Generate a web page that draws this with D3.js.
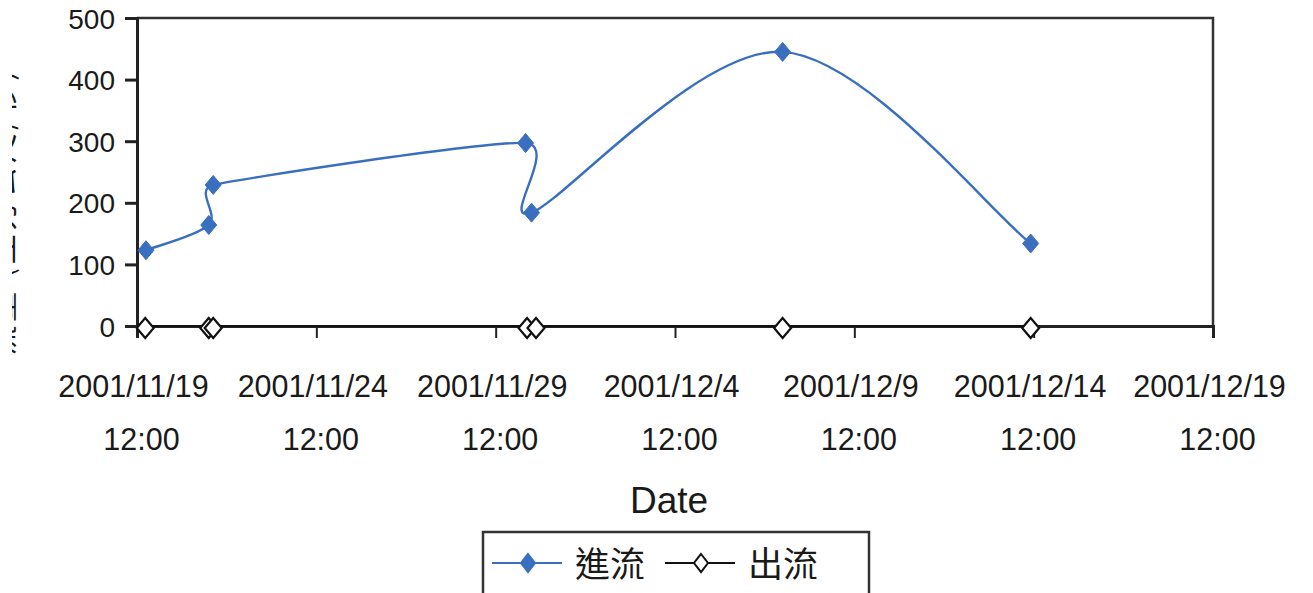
<!DOCTYPE html>
<html>
<head>
<meta charset="utf-8">
<script src="https://cdn.jsdelivr.net/npm/d3@7"></script>
<style>
  html, body { margin: 0; padding: 0; background: #fff; }
  svg { display: block; }
  text { font-family: "Liberation Sans", Arial, sans-serif; fill: #1a1a1a; }
  .cjk { font-family: "Noto Sans CJK TC", "Noto Sans CJK SC", sans-serif; }
</style>
</head>
<body>
<svg id="chart" width="1313" height="593"></svg>
<script>
// Series: inflow (進流) and outflow (出流)
const seriesNames = ["進流", "出流"];
const inflowTimes = ["2001/11/19 18:00", "2001/11/21 12:00", "2001/11/21 15:00",
                     "2001/11/30 08:00", "2001/11/30 12:00", "2001/12/07 12:00",
                     "2001/12/14 10:00"];
const inflowValues = [123, 164, 229, 297, 184, 445, 134];
const outflowTimes = ["2001/11/19 17:30", "2001/11/21 12:00", "2001/11/21 15:00",
                      "2001/11/30 09:00", "2001/11/30 15:00", "2001/12/07 12:00",
                      "2001/12/14 10:00"];
const outflowValues = [0, 0, 0, 0, 0, 0, 0];

// Axis ticks
const xTickLabels = ["2001/11/19 12:00", "2001/11/24 12:00", "2001/11/29 12:00",
                     "2001/12/4 12:00", "2001/12/9 12:00", "2001/12/14 12:00",
                     "2001/12/19 12:00"];
const yTicks = [0, 100, 200, 300, 400, 500];
const xTitle = "Date";
const yTitle = "流量 (立方公尺/秒)";

const parse = d3.timeParse("%Y/%m/%d %H:%M");
const xTickDates = xTickLabels.map(parse);

const svg = d3.select("#chart");
const plot = { left: 137, right: 1213, top: 18, bottom: 326 };

const x = d3.scaleTime()
  .domain([xTickDates[0], xTickDates[xTickDates.length - 1]])
  .range([plot.left, plot.right]);
const y = d3.scaleLinear().domain([0, 500]).range([plot.bottom, plot.top]);

const inflow = inflowTimes.map((t, i) => ({ t: parse(t), v: inflowValues[i] }));
const outflow = outflowTimes.map((t, i) => ({ t: parse(t), v: outflowValues[i] }));

// Spreadsheet-style smoothing: cubic Bezier segments whose handles follow the
// neighbouring chord (1/6 of it), clamped to half of the shorter adjacent segment.
function SmoothCurve(context) { this._context = context; }
SmoothCurve.prototype = {
  areaStart() {}, areaEnd() {},
  lineStart() { this._pts = []; },
  point(px, py) { this._pts.push([+px, +py]); },
  lineEnd() {
    const p = this._pts, n = p.length, c = this._context;
    if (!n) return;
    c.moveTo(p[0][0], p[0][1]);
    if (n === 1) return;
    const dist = (a, b) => Math.hypot(b[0] - a[0], b[1] - a[1]);
    const handles = p.map((pt, i) => {
      const prev = p[Math.max(0, i - 1)], next = p[Math.min(n - 1, i + 1)];
      const tx = next[0] - prev[0], ty = next[1] - prev[1];
      const L = Math.hypot(tx, ty) || 1;
      let h = L / 6;
      const dp = dist(prev, pt), dn = dist(pt, next);
      if (i > 0) h = Math.min(h, dp / 2);
      if (i < n - 1) h = Math.min(h, dn / 2);
      return [tx / L * h, ty / L * h];
    });
    for (let i = 0; i < n - 1; i++) {
      const a = p[i], b = p[i + 1], ha = handles[i], hb = handles[i + 1];
      c.bezierCurveTo(a[0] + ha[0], a[1] + ha[1], b[0] - hb[0], b[1] - hb[1], b[0], b[1]);
    }
  }
};
const curveSmooth = ctx => new SmoothCurve(ctx);

// Frame: top and right edges
svg.append("path")
  .attr("d", `M${plot.left},${plot.top}H${plot.right}V${plot.bottom}`)
  .attr("fill", "none").attr("stroke", "#333").attr("stroke-width", 2.5);

// Y axis
const yAxis = svg.append("g")
  .attr("transform", `translate(${plot.left},0)`)
  .call(d3.axisLeft(y).tickValues(yTicks).tickSize(12).tickPadding(10).tickFormat(d3.format("d")));
yAxis.select(".domain").attr("stroke", "#222").attr("stroke-width", 3);
yAxis.selectAll(".tick line").attr("stroke", "#222").attr("stroke-width", 3);
yAxis.selectAll(".tick text")
  .style("font-family", "'Liberation Sans', Arial, sans-serif")
  .style("font-size", "28px").attr("fill", "#1a1a1a").attr("dy", "0.36em");

// X axis with two-line date labels
const fmtDate = d3.timeFormat("%Y/%m/%-d");
const xAxis = svg.append("g")
  .attr("transform", `translate(0,${plot.bottom})`)
  .call(d3.axisBottom(x).tickValues(xTickDates).tickSize(12).tickFormat(""));
xAxis.select(".domain").attr("stroke", "#222").attr("stroke-width", 3);
xAxis.selectAll(".tick line").attr("stroke", "#222").attr("stroke-width", 2);
xAxis.selectAll(".tick").each(function (d) {
  const g = d3.select(this);
  const label = g.append("text")
    .attr("fill", "#1a1a1a")
    .style("font-family", "'Liberation Sans', Arial, sans-serif")
    .style("font-size", "30.5px")
    .attr("text-anchor", "middle");
  label.append("tspan").attr("x", -4).attr("y", 71).text(fmtDate(d));
  label.append("tspan").attr("x", 4).attr("y", 124).text(d3.timeFormat("%H:%M")(d));
});

// Axis titles
svg.append("text")
  .attr("x", 669).attr("y", 513)
  .attr("text-anchor", "middle")
  .style("font-size", "37px")
  .text(xTitle);

// Y title sits mostly beyond the left edge; only a sliver is shown
svg.append("clipPath").attr("id", "yclip")
  .append("rect").attr("x", 12).attr("y", 0).attr("width", 20).attr("height", 593);
svg.append("g").attr("clip-path", "url(#yclip)")
  .append("text")
  .attr("class", "cjk")
  .attr("transform", `translate(12.5,213) rotate(-90)`)
  .attr("text-anchor", "middle")
  .attr("textLength", 285)
  .style("font-size", "30px")
  .attr("fill", "#333")
  .text(yTitle);

// Smoothed lines
const line = d3.line()
  .x(d => x(d.t)).y(d => y(d.v))
  .curve(curveSmooth);

const blue = "#3a6fc0";
svg.append("path").datum(outflow)
  .attr("d", line).attr("fill", "none")
  .attr("stroke", "#111").attr("stroke-width", 2);
svg.append("path").datum(inflow)
  .attr("d", line).attr("fill", "none")
  .attr("stroke", blue).attr("stroke-width", 2.4);

// Diamond markers
const diamond = (hw, hh) => `M0,${-hh}L${hw},0L0,${hh}L${-hw},0Z`;

svg.append("g").selectAll("path").data(outflow).join("path")
  .attr("transform", d => `translate(${x(d.t)},${y(d.v) + 2})`)
  .attr("d", diamond(8.5, 10))
  .attr("fill", "#fff").attr("stroke", "#111").attr("stroke-width", 2.2);

svg.append("g").selectAll("path").data(inflow).join("path")
  .attr("transform", d => `translate(${x(d.t)},${y(d.v)})`)
  .attr("d", diamond(8, 9.5))
  .attr("fill", blue).attr("stroke", blue).attr("stroke-width", 1);

// Legend
const legend = svg.append("g");
legend.append("rect")
  .attr("x", 483).attr("y", 532).attr("width", 386).attr("height", 80)
  .attr("fill", "#fff").attr("stroke", "#333").attr("stroke-width", 2.5);

const legendItems = [
  { name: seriesNames[0], color: blue, fill: blue, x0: 492 },
  { name: seriesNames[1], color: "#111", fill: "#fff", x0: 665 }
];
legendItems.forEach(it => {
  const ly = 563;
  legend.append("line")
    .attr("x1", it.x0).attr("x2", it.x0 + 70).attr("y1", ly).attr("y2", ly)
    .attr("stroke", it.color).attr("stroke-width", 2.2);
  legend.append("path")
    .attr("transform", `translate(${it.x0 + 36},${ly})`)
    .attr("d", diamond(7, 9))
    .attr("fill", it.fill).attr("stroke", it.color).attr("stroke-width", 2);
  legend.append("text")
    .attr("class", "cjk")
    .attr("x", it.x0 + 83).attr("y", ly + 14)
    .style("font-size", "35px")
    .text(it.name);
});
</script>
</body>
</html>
